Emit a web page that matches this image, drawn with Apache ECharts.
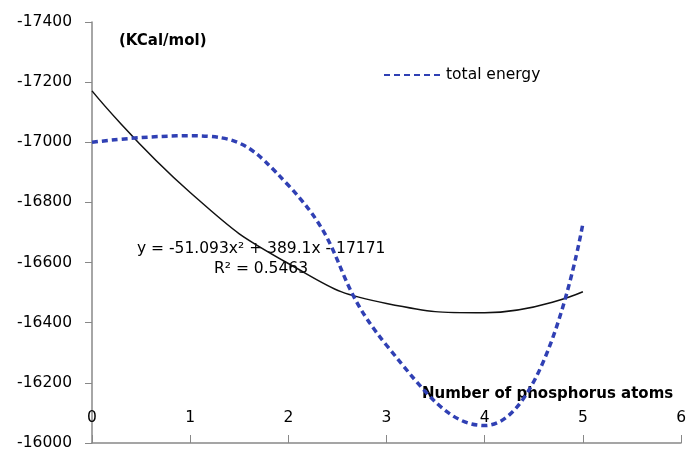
<!DOCTYPE html>
<html>
<head>
<meta charset="utf-8">
<script src="https://cdn.jsdelivr.net/npm/echarts@6/dist/echarts.min.js"></script>
<style>html,body{margin:0;padding:0;background:#fff;}#c{width:689px;height:451px;}</style>
</head>
<body>
<div id="c"></div>
<script>
var atoms = [0, 1, 2, 3, 4, 5];
var totalEnergy = [-17000, -17022, -16857, -16325, -16058, -16730];
var trendValues = [-17171, -16833, -16597, -16464, -16433, -16503];
var yTicks = [-17400, -17200, -17000, -16800, -16600, -16400, -16200, -16000];
var seriesName = 'total energy';
var equationText = 'y = -51.093x\u00b2 + 389.1x - 17171';
var r2Text = 'R\u00b2 = 0.5463';

var font = 'DejaVu Sans';
var chart = echarts.init(document.getElementById('c'));
chart.setOption({
  animation: false,
  backgroundColor: '#fff',
  grid: {left: 92, right: 2, top: 22, bottom: 8},
  legend: {
    data: [seriesName],
    left: 378, top: 62,
    itemWidth: 57, itemHeight: 14, itemGap: 4,
    itemStyle: {color: 'transparent', borderWidth: 0, opacity: 0},
    textStyle: {fontFamily: font, fontSize: 15.5, color: '#000'}
  },
  xAxis: {
    type: 'value', min: 0, max: 6, interval: 1,
    axisLine: {show: true, lineStyle: {color: '#888', width: 1.5}},
    axisTick: {show: true, inside: true, length: 8, lineStyle: {color: '#888'}},
    axisLabel: {inside: true, margin: 17, fontFamily: font, fontSize: 15.5, color: '#000'},
    splitLine: {show: false}
  },
  yAxis: {
    type: 'value', inverse: true, min: yTicks[0], max: yTicks[yTicks.length - 1], interval: 200,
    axisLine: {show: true, lineStyle: {color: '#888', width: 1.5}},
    axisTick: {show: true, length: 7, lineStyle: {color: '#888'}},
    axisLabel: {margin: 20, fontFamily: font, fontSize: 15.5, color: '#000',
      formatter: function (v) { return String(v); }},
    splitLine: {show: false}
  },
  graphic: [
    {type: 'text', left: 119, top: 34, style: {text: '(KCal/mol)', font: 'bold 15px "DejaVu Sans"', fill: '#000'}},
    {type: 'text', left: 422, top: 387, style: {text: 'Number of phosphorus atoms', font: 'bold 15px "DejaVu Sans"', fill: '#000'}},
    {type: 'text', left: 137, top: 241, style: {text: equationText, font: '15.5px "DejaVu Sans"', fill: '#000'}},
    {type: 'text', left: 214, top: 261, style: {text: r2Text, font: '15.5px "DejaVu Sans"', fill: '#000'}}
  ],
  series: [
    {
      name: 'trend', type: 'line', smooth: true, symbol: 'none', silent: true,
      data: atoms.map(function (x, i) { return [x, trendValues[i]]; }),
      lineStyle: {color: '#111', width: 1.5}, z: 2
    },
    {
      name: seriesName, type: 'line', smooth: true, symbol: 'none',
      data: atoms.map(function (x, i) { return [x, totalEnergy[i]]; }),
      itemStyle: {color: '#3040b4'},
      lineStyle: {color: '#3040b4', width: 3.5, type: [6, 4]}, z: 3
    }
  ]
});
</script>
</body>
</html>
